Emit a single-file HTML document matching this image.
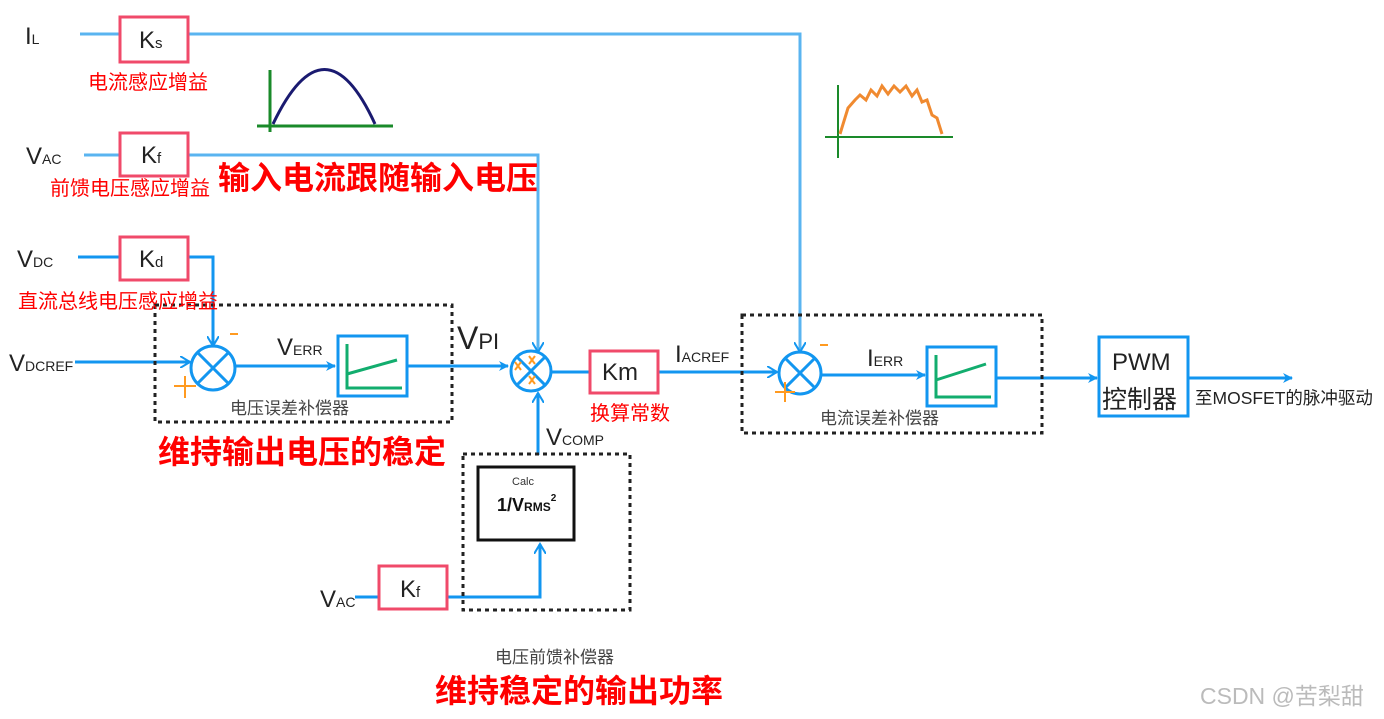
<!DOCTYPE html>
<html><head><meta charset="utf-8"><style>
html,body{margin:0;padding:0;background:#fff;}
svg{display:block;font-family:"Liberation Sans","Noto Sans CJK SC",sans-serif;}
.r{fill:#f00;}
.b{font-weight:bold;fill:#f00;font-size:32px;}
.g{fill:#444;font-size:17px;}
</style></head><body>
<svg width="1384" height="719" viewBox="0 0 1384 719" xmlns="http://www.w3.org/2000/svg">
<defs>
<marker id="a" markerWidth="10" markerHeight="10" refX="9" refY="5" orient="auto" markerUnits="userSpaceOnUse"><path d="M0,0 L10,5 L0,10 L3,5 Z" fill="#1296f0"/></marker>
<marker id="o" markerWidth="12" markerHeight="12" refX="10" refY="6" orient="auto" markerUnits="userSpaceOnUse"><path d="M0,0 L10,6 L0,12" fill="none" stroke="#1296f0" stroke-width="2"/></marker>
</defs>
<g stroke="#1296f0" stroke-width="3" fill="none">
<path d="M80,34H120M188,34H800V352" stroke="#5ab4f0" marker-end="url(#o)"/>
<path d="M84,155H120M188,155H538V352" stroke="#5ab4f0" marker-end="url(#o)"/>
<path d="M78,257H120M188,257H213V346" marker-end="url(#o)"/>
<path d="M75,362H190" marker-end="url(#o)"/>
<path d="M236,366H335" marker-end="url(#a)"/>
<path d="M407,366H508" marker-end="url(#a)"/>
<path d="M551,372H590M658,372H777" marker-end="url(#o)"/>
<path d="M822,375H925" marker-end="url(#a)"/>
<path d="M996,378H1097" marker-end="url(#a)"/>
<path d="M1188,378H1292" marker-end="url(#a)"/>
<path d="M538,455V393" marker-end="url(#o)"/>
<path d="M355,597H379M447,597H540V544" marker-end="url(#o)"/>
<circle cx="213" cy="368" r="22"/><path d="M198,353L228,383M228,353L198,383"/>
<circle cx="531" cy="371" r="20"/><path d="M517,357L545,385M545,357L517,385"/>
<circle cx="800" cy="373" r="21"/><path d="M785,358L815,388M815,358L785,388"/>
<rect x="338" y="336" width="69" height="60"/>
<rect x="927" y="347" width="69" height="59"/>
<rect x="1099" y="337" width="89" height="79"/>
</g>
<g stroke="#ff9a20" stroke-width="2">
<path d="M174,386H196M185,376V398M230,334H238M775,392H795M785,382V402M820,345H828"/>
<path d="M515,362l6,8m0,-8l-6,8M529,356l6,8m0,-8l-6,8M529,376l6,8m0,-8l-6,8"/>
</g>
<g stroke="#12ad6e" stroke-width="3" fill="none">
<path d="M347,344V388H402M347,374L397,360"/>
<path d="M936,355V397H991M936,380L986,364"/>
</g>
<g fill="#fff" stroke="#f04a6a" stroke-width="3">
<rect x="120" y="17" width="68" height="45"/><rect x="120" y="133" width="68" height="43"/>
<rect x="120" y="237" width="68" height="43"/><rect x="590" y="351" width="68" height="42"/>
<rect x="379" y="566" width="68" height="43"/>
</g>
<g fill="none" stroke="#222" stroke-width="3" stroke-dasharray="4,4">
<rect x="155" y="305" width="297" height="117"/><rect x="742" y="315" width="300" height="118"/>
<rect x="463" y="454" width="167" height="156"/>
</g>
<rect x="478" y="467" width="96" height="73" fill="#fff" stroke="#111" stroke-width="3"/>
<path d="M257,126H393M270,70V132" stroke="#1a8a2a" stroke-width="3"/>
<path d="M273,124Q325,15 375,124" stroke="#1a1a70" stroke-width="3" fill="none"/>
<path d="M825,137H953M838,85V158" stroke="#1a8a2a" stroke-width="2"/>
<path d="M840,134 L848,108 L855,100 L860,95 L866,100 L871,90 L877,96 L882,86 L888,94 L894,86 L900,92 L906,86 L912,96 L917,90 L922,102 L927,100 L932,115 L937,118 L942,134" stroke="#f08a30" stroke-width="3" fill="none"/>
<g font-size="24" fill="#222">
<text x="25" y="44">I<tspan font-size="14">L</tspan></text>
<text x="26" y="164">V<tspan font-size="14">AC</tspan></text>
<text x="17" y="267">V<tspan font-size="14">DC</tspan></text>
<text x="9" y="371">V<tspan font-size="14">DCREF</tspan></text>
<text x="320" y="607">V<tspan font-size="14">AC</tspan></text>
<text x="139" y="48">K<tspan font-size="15">s</tspan></text>
<text x="141" y="163">K<tspan font-size="15">f</tspan></text>
<text x="139" y="267">K<tspan font-size="15">d</tspan></text>
<text x="400" y="597">K<tspan font-size="15">f</tspan></text>
<text x="602" y="380">Km</text>
<text x="277" y="355">V<tspan font-size="14">ERR</tspan></text>
<text x="867" y="366">I<tspan font-size="14">ERR</tspan></text>
<text x="675" y="362">I<tspan font-size="14">ACREF</tspan></text>
<text x="546" y="445">V<tspan font-size="14">COMP</tspan></text>
<text x="457" y="349" font-size="32">V<tspan font-size="22">PI</tspan></text>
<text x="1112" y="370" font-size="24">PWM</text>
<text x="1102" y="408" font-size="25" font-family="Noto Sans CJK SC,sans-serif">控制器</text>
</g>
<text x="512" y="485" font-size="11" fill="#333">Calc</text>
<text x="497" y="511" font-size="18" font-weight="bold" fill="#111">1/V<tspan font-size="12">RMS</tspan><tspan font-size="10" dy="-10">2</tspan></text>
<g class="r" font-size="20">
<text x="88" y="89">电流感应增益</text>
<text x="50" y="195">前馈电压感应增益</text>
<text x="18" y="308">直流总线电压感应增益</text>
<text x="590" y="420">换算常数</text>
</g>
<text class="b" x="218" y="189">输入电流跟随输入电压</text>
<text class="b" x="158" y="463">维持输出电压的稳定</text>
<text class="b" x="435" y="702">维持稳定的输出功率</text>
<text class="g" x="230" y="414">电压误差补偿器</text>
<text class="g" x="820" y="424">电流误差补偿器</text>
<text class="g" x="495" y="663">电压前馈补偿器</text>
<text x="1195" y="404" font-size="17.5" fill="#222">至MOSFET的脉冲驱动</text>
<text x="1200" y="704" font-size="23" fill="#bbb">CSDN @苦梨甜</text>
</svg>
</body></html>
